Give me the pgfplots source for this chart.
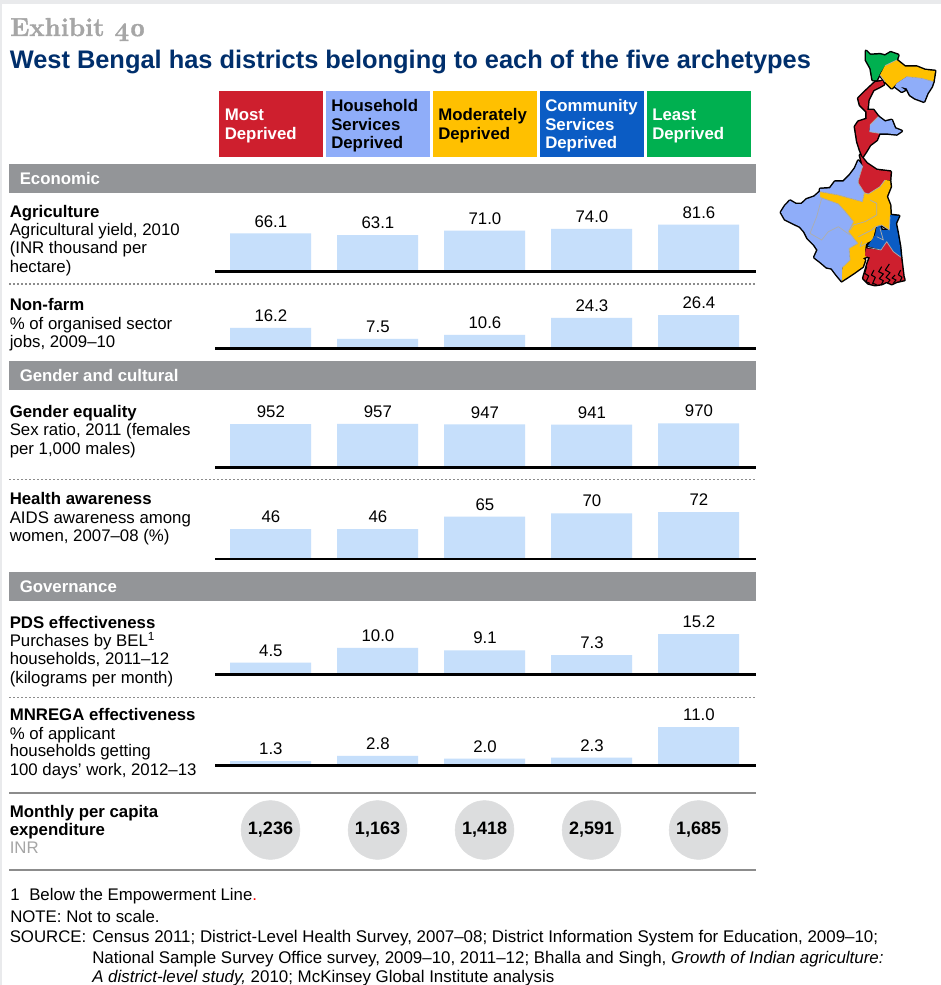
\documentclass[border=0pt]{standalone}
\usepackage{fontspec}
\usepackage{pgfplots}
\pgfplotsset{compat=1.18}
\setsansfont{Liberation Sans}
\renewcommand{\familydefault}{\sfdefault}
\definecolor{cred}{HTML}{CE1F2E}
\definecolor{clb}{HTML}{8FADF9}
\definecolor{cyl}{HTML}{FFC000}
\definecolor{cbl}{HTML}{0B5CC4}
\definecolor{cgr}{HTML}{00B050}
\definecolor{band}{HTML}{939598}
\definecolor{barc}{HTML}{C6DFFB}
\definecolor{navy}{HTML}{002F6C}
\definecolor{exg}{HTML}{A6A6A6}
\definecolor{circ}{HTML}{DCDDDE}
\definecolor{edge}{HTML}{E9EAEC}
\definecolor{rulec}{HTML}{8C8C8C}
\newcommand{\bodyf}{\fontsize{12.6}{13.8}\selectfont}
\newcommand{\footf}{\fontsize{12.68}{13.8}\selectfont}
\pgfplotsset{
  barpanel/.style={
    scale only axis, width=405.75pt, height=45pt,
    xmin=-0.5187, xmax=4.537, ymin=0,
    anchor=south west, clip=false,
    axis on top,
    axis x line=bottom, axis y line=none,
    x axis line style={-, black, line width=2.2pt},
    xtick=\empty, ytick=\empty,
    ybar, bar width=60.75pt, bar shift=0pt,
    nodes near coords,
    every node near coord/.append style={font=\bodyf, black, anchor=base, yshift=4.8pt, xshift=0.3pt},
    /pgf/number format/assume math mode=true,
    /pgf/number format/fixed,
    /pgf/number format/fixed zerofill,
    /pgf/number format/precision=1,
  },
  barfill/.style={fill=barc, draw=none},
}
\begin{document}
\begin{tikzpicture}
\useasboundingbox (0,0) rectangle (705.75pt,-738.75pt);
\begin{scope}[x=0.75pt,y=-0.75pt]
\fill[white] (0,0) rectangle (941,985);
\fill[edge] (0,0) rectangle (941,4);
\fill[edge] (0,0) rectangle (2,985);
% title
\node[anchor=base west,inner sep=0,exg] at (10,36) {\fontsize{19.4}{24}\selectfont\fontspec{Latin Modern Roman}[Numbers=OldStyle,BoldFeatures={FakeBold=1.5}]\bfseries Exhibit 40};
\node[anchor=base west,inner sep=0,navy] at (9.5,68) {\fontsize{19.05}{22}\selectfont\bfseries West Bengal has districts belonging to each of the five archetypes};
% header boxes
\fill[cred] (219,91) rectangle (323,157);
\fill[clb] (326,91) rectangle (430,157);
\fill[cyl] (433,91) rectangle (537,157);
\fill[cbl] (540,91) rectangle (644,157);
\fill[cgr] (647,91) rectangle (751,157);
\begin{scope}[every node/.style={anchor=base west,inner sep=0,font=\bodyf\bfseries}]
\node[white] at (224.5,120) {Most};
\node[white] at (224.5,139) {Deprived};
\node[black] at (331,111) {Household};
\node[black] at (331,130) {Services};
\node[black] at (331,148) {Deprived};
\node[black] at (438,120) {Moderately};
\node[black] at (438,139) {Deprived};
\node[white] at (545,111) {Community};
\node[white] at (545,130) {Services};
\node[white] at (545,148) {Deprived};
\node[white] at (652,120) {Least};
\node[white] at (652,139) {Deprived};
\end{scope}
% bands
\fill[band] (9,164) rectangle (756,193);
\fill[band] (9,361) rectangle (756,390);
\fill[band] (9,572) rectangle (756,601);
\begin{scope}[every node/.style={anchor=base west,inner sep=0,font=\bodyf\bfseries,white}]
\node at (19.5,184) {Economic};
\node at (19.5,381) {Gender and cultural};
\node at (19.5,592) {Governance};
\end{scope}
% row labels
\begin{scope}[every node/.style={anchor=base west,inner sep=0,font=\bodyf,black}]
\node[font=\bodyf\bfseries] at (9.5,217) {Agriculture};
\node at (9.5,235) {Agricultural yield, 2010};
\node at (9.5,253) {(INR thousand per};
\node at (9.5,272) {hectare)};
\node[font=\bodyf\bfseries] at (9.5,310) {Non-farm};
\node at (9.5,329) {\% of organised sector};
\node at (9.5,347) {jobs, 2009--10};
\node[font=\bodyf\bfseries] at (9.5,417) {Gender equality};
\node at (9.5,435) {Sex ratio, 2011 (females};
\node at (9.5,454) {per 1,000 males)};
\node[font=\bodyf\bfseries] at (9.5,504) {Health awareness};
\node at (9.5,523) {AIDS awareness among};
\node at (9.5,541) {women, 2007--08 (\%)};
\node[font=\bodyf\bfseries] at (9.5,628) {PDS effectiveness};
\node at (9.5,646) {Purchases by BEL\textsuperscript{1}};
\node at (9.5,664) {households, 2011--12};
\node at (9.5,683) {(kilograms per month)};
\node[font=\bodyf\bfseries] at (9.5,720) {MNREGA effectiveness};
\node at (9.5,739) {\% of applicant};
\node at (9.5,756) {households getting};
\node at (9.5,775) {100 days' work, 2012--13};
\node[font=\bodyf\bfseries] at (9.5,817) {Monthly per capita};
\node[font=\bodyf\bfseries] at (9.5,835) {expenditure};
\node[exg] at (9.5,853) {INR};
\node at (10,900) {1};
\node at (29,900) {Below the Empowerment Line\textcolor{red}{.}};
\node at (10,922) {NOTE: Not to scale.};
\node at (9.5,942) {SOURCE:};
\node[font=\footf] at (92,942) {Census 2011; District-Level Health Survey, 2007--08; District Information System for Education, 2009--10;};
\node[font=\footf] at (92,963) {National Sample Survey Office survey, 2009--10, 2011--12; Bhalla and Singh, \textit{Growth of Indian agriculture:}};
\node[font=\footf] at (92,982) {\textit{A district-level study,} 2010; McKinsey Global Institute analysis};
\end{scope}
% rules
\draw[black!45,line width=1.1pt,dash pattern=on 1.5pt off 1.5pt] (9,284) -- (756,284);
\draw[black!45,line width=1.1pt,dash pattern=on 1.5pt off 1.5pt] (9,479.3) -- (756,479.3);
\draw[black!45,line width=1.1pt,dash pattern=on 1.5pt off 1.5pt] (9,697.3) -- (756,697.3);
\draw[rulec,line width=1.5pt] (9,793) -- (756,793);
\draw[rulec,line width=1.5pt] (9,870) -- (756,870);
% map
\begin{scope}[shift={(770,40)},x=0.25pt,y=-0.25pt,line join=round]
\def\mga{(288,33)--(300,45)--(330,43)--(345,47)--(362,37)--(385,45)--(380,60)--(345,77)--(330,100)--(320,120)--(308,120)--(302,85)--(288,60)--cycle}
\def\mya{(380,60)--(405,80)--(440,80)--(465,90)--(495,93)--(490,125)--(455,115)--(410,110)--(380,130)--(365,145)--(345,125)--(330,105)--(345,77)--cycle}
\def\mlb{(410,110)--(455,115)--(490,125)--(485,140)--(472,160)--(462,185)--(435,175)--(420,165)--(410,145)--(390,140)--(405,150)--(395,155)--(375,140)--(380,130)--cycle}
\def\mrb{(315,127)--(338,123)--(342,133)--(330,140)--(310,150)--(295,180)--(292,210)--(310,210)--(325,230)--(300,255)--(298,275)--(328,280)--(320,300)--(300,315)--(288,335)--(278,350)--(270,330)--(262,305)--(255,260)--(265,245)--(290,237)--(290,215)--(270,195)--(265,175)--(285,155)--cycle}
\def\mlc{(325,230)--(345,245)--(365,240)--(375,265)--(395,273)--(380,283)--(350,280)--(328,280)--(298,275)--(300,255)--cycle}
\def\mrc{(270,345)--(290,370)--(320,390)--(362,395)--(360,420)--(345,420)--(330,440)--(295,462)--(283,458)--(265,430)--(265,420)--(278,378)--cycle}
\def\mld{(265,362)--(278,378)--(265,420)--(265,430)--(283,458)--(277,485)--(205,465)--(150,455)--(150,447)--(180,445)--(195,425)--(220,425)--(240,405)--(255,385)--cycle}
\def\mye{(150,455)--(205,465)--(277,485)--(283,458)--(295,462)--(330,440)--(345,420)--(360,422)--(362,440)--(350,470)--(360,495)--(362,530)--(358,570)--(335,555)--(318,560)--(308,600)--(288,610)--(285,632)--(290,650)--(278,655)--(285,660)--(278,680)--(250,700)--(215,723)--(217,682)--(240,660)--(237,625)--(263,610)--(235,575)--(250,545)--(230,520)--(205,492)--(150,472)--cycle}
\def\mbf{(360,525)--(387,528)--(377,550)--(383,580)--(390,620)--(393,652)--(370,635)--(350,605)--(333,630)--(293,618)--(315,585)--(320,560)--(330,555)--(335,570)--(360,570)--cycle}
\def\mrg{(287,625)--(315,628)--(333,630)--(350,605)--(370,635)--(393,652)--(400,710)--(403,720)--(380,725)--(365,732)--(350,725)--(335,732)--(315,735)--(295,730)--(280,715)--(293,670)--(300,652)--(285,648)--cycle}
\def\mlh{(150,455)--(133,470)--(110,478)--(95,492)--(77,492)--(60,482)--(45,498)--(33,517)--(45,538)--(65,548)--(90,560)--(103,575)--(113,595)--(133,615)--(143,630)--(133,652)--(150,665)--(170,682)--(185,685)--(200,705)--(215,723)--(217,682)--(240,660)--(237,625)--(263,610)--(235,575)--(250,545)--(230,520)--(205,492)--(150,472)--cycle}
\foreach \p in {\mga,\mya,\mlb,\mrb,\mlc,\mrc,\mld,\mye,\mbf,\mrg,\mlh}{\draw[black,line width=2.2pt] \p;}
\fill[cgr] \mga; \fill[cyl] \mya; \fill[clb] \mlb; \fill[cred] \mrb; \fill[clb] \mlc; \fill[cred] \mrc; \fill[clb] \mld; \fill[cyl] \mye; \fill[cbl] \mbf; \fill[cred] \mrg; \fill[clb] \mlh;
\begin{scope}[draw=black!32,line width=0.55pt]
\draw (345,77)--(380,60); \draw (330,105)--(345,125); \draw (410,110)--(455,115)--(490,125);
\draw (300,255)--(325,230); \draw (298,275)--(328,280);
\draw (278,378)--(265,420)--(265,430)--(283,458)--(277,485)--(205,465)--(150,455);
\draw (283,458)--(295,462)--(330,440)--(345,420);
\draw (155,475)--(140,530)--(120,580)--(155,600)--(175,575)--(205,560)--(240,585);
\draw (150,472)--(205,492)--(230,520)--(250,545)--(235,575)--(263,610)--(237,625)--(240,660)--(217,682);
\draw (300,480)--(320,490)--(320,525)--(285,545)--(250,555)--(240,570);
\draw (265,590)--(305,570)--(317,560); \draw (275,605)--(270,620)--(290,610);
\draw (320,590)--(340,600)--(330,565);
\draw (360,530)--(358,570)--(335,555)--(318,560);
\draw (293,622)--(333,630)--(350,605)--(370,635)--(393,652);
\end{scope}
\draw[black,line width=0.8pt] (290,680)--(284,700)--(296,708)--(288,725)--(300,730) (312,690)--(304,705)--(316,712)--(308,730)--(320,734) (335,680)--(326,695)--(340,702)--(328,716)--(340,722)--(334,734) (358,672)--(346,690)--(360,698)--(348,712)--(360,720)--(352,730) (375,705)--(366,714)--(378,720)--(370,730) (392,690)--(385,704)--(396,712)--(390,724);
\end{scope}
\end{scope}
% panels
\begin{axis}[barpanel, at={(215*0.75pt,-271.5*0.75pt)}, ymax=104.3]
\addplot[barfill] coordinates {(0,66.1) (1,63.1) (2,71.0) (3,74.0) (4,81.6)};
\end{axis}
\begin{axis}[barpanel, at={(215*0.75pt,-348.2*0.75pt)}, ymax=48]
\addplot[barfill] coordinates {(0,16.2) (1,7.5) (2,10.6) (3,24.3) (4,26.4)};
\end{axis}
\begin{axis}[barpanel, at={(215*0.75pt,-467.2*0.75pt)}, ymax=1328, /pgf/number format/precision=0]
\addplot[barfill] coordinates {(0,952) (1,957) (2,947) (3,941) (4,970)};
\end{axis}
\begin{axis}[barpanel, at={(215*0.75pt,-559*0.75pt)}, ymax=92, /pgf/number format/precision=0]
\addplot[barfill] coordinates {(0,46) (1,46) (2,65) (3,70) (4,72)};
\end{axis}
\begin{axis}[barpanel, at={(215*0.75pt,-674.5*0.75pt)}, ymax=22.6]
\addplot[barfill] coordinates {(0,4.5) (1,10.0) (2,9.1) (3,7.3) (4,15.2)};
\end{axis}
\begin{axis}[barpanel, at={(215*0.75pt,-765.7*0.75pt)}, ymax=17.1]
\addplot[barfill] coordinates {(0,1.3) (1,2.8) (2,2.0) (3,2.3) (4,11.0)};
\end{axis}
% expenditure circles
\begin{axis}[scale only axis, width=405.75pt, height=45pt,
  xmin=-0.5187, xmax=4.537, ymin=-1, ymax=1,
  at={(215*0.75pt,-830*0.75pt)}, anchor=west, clip=false, hide axis,
  point meta=explicit,
  nodes near coords,
  every node near coord/.append style={font=\fontsize{13.5}{15}\selectfont\bfseries, text=black, anchor=center},
  /pgf/number format/assume math mode=true,
  /pgf/number format/1000 sep={,},
  /pgf/number format/precision=0]
\addplot[only marks, mark=*, mark size=22pt, color=circ, mark options={fill=circ, draw=circ}]
  table[x=x, y=y, meta=v] {
x y v
0 0 1236
1 0 1163
2 0 1418
3 0 2591
4 0 1685
};
\end{axis}
\end{tikzpicture}
\end{document}
